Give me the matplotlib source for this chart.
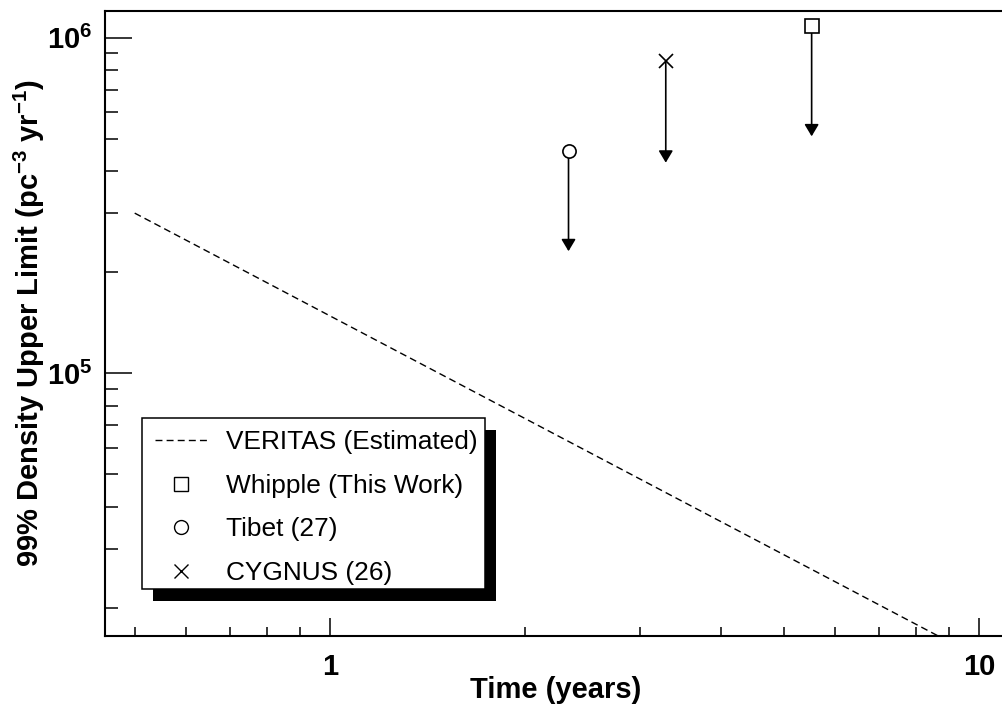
import numpy as np
import matplotlib
matplotlib.use("Agg")
import matplotlib.pyplot as plt
from matplotlib.patches import Rectangle
from matplotlib.lines import Line2D
from matplotlib.ticker import LogLocator, NullFormatter

plt.rcParams['font.family'] = 'Liberation Sans'
plt.rcParams['mathtext.fontset'] = 'custom'
plt.rcParams['mathtext.rm'] = 'Liberation Sans'
plt.rcParams['mathtext.bf'] = 'Liberation Sans:bold'
plt.rcParams['mathtext.it'] = 'Liberation Sans:italic'

# estimated VERITAS sensitivity (time in years, density)
veritas_t = [0.5, 8.65]
veritas_d = [3.0e5, 1.65e4]

# measured upper limits and where their arrows end
limit_names = ['Whipple (This Work)', 'Tibet (27)', 'CYGNUS (26)']
limit_t = [5.52, 2.33, 3.29]
limit_d = [1.08e6, 4.59e5, 8.5e5]
arrow_d = [5.08e5, 2.31e5, 4.24e5]
markers = ['s', 'o', 'x']

xticks = [1, 10]
xticklabels = ['1', '10']
yticks = [1e5, 1e6]
yticklabels = [r'$\mathbf{10^{5}}$', r'$\mathbf{10^{6}}$']

W, H = 1002, 708
fig = plt.figure(figsize=(W / 100, H / 100), dpi=100)
ax = fig.add_axes([105 / W, (H - 636) / H, (1006 - 105) / W, (636 - 11) / H])
ax.set_xscale('log')
ax.set_yscale('log')
ax.set_xlim(0.45, 11)
ax.set_ylim(1.65e4, 1.2e6)

# VERITAS line
dash = (0, (5, 3))
ax.plot(veritas_t, veritas_d, color='k', ls=dash, lw=1)

# upper limits with downward arrows
for t, d, a, m in zip(limit_t, limit_d, arrow_d, markers):
    ax.annotate('', xy=(t, a), xytext=(t, d),
                arrowprops=dict(arrowstyle='-|>,head_length=0.72,head_width=0.43',
                                color='k', lw=1.2, shrinkA=0, shrinkB=0))
    ax.plot([t], [d], m, mfc='white', mec='k', ms=9.5, mew=1.2, zorder=4)

# axes styling
for s in ax.spines.values():
    s.set_linewidth(1.5)
ax.xaxis.set_minor_locator(LogLocator(base=10, subs=np.arange(2, 10)))
ax.yaxis.set_minor_locator(LogLocator(base=10, subs=np.arange(2, 10)))
ax.xaxis.set_minor_formatter(NullFormatter())
ax.yaxis.set_minor_formatter(NullFormatter())
ax.set_xticks(xticks, labels=xticklabels, fontsize=21, fontweight='bold')
ax.set_yticks(yticks, labels=yticklabels, fontsize=21)
ax.tick_params(which='both', direction='in', top=False, right=False, width=1.1)
ax.tick_params(axis='x', which='major', length=13, pad=12)
ax.tick_params(axis='x', which='minor', length=6.5)
ax.tick_params(axis='y', which='major', length=19.5, pad=9)
ax.tick_params(axis='y', which='minor', length=9.4)

ax.set_xlabel('Time (years)', fontsize=21, fontweight='bold', labelpad=-3)
ax.set_ylabel(r'99% Density Upper Limit (pc$\mathbf{^{-3}}$ yr$\mathbf{^{-1}}$)',
              fontsize=21, fontweight='bold', labelpad=0)

# legend box with a solid black shadow
bx0, by0, bx1, by1 = 141.7, 418, 485, 589
ax.add_patch(Rectangle(((bx0 + 11) / W, (H - by1 - 12) / H), (bx1 - bx0) / W,
                       (by1 - by0) / H, transform=fig.transFigure,
                       facecolor='k', edgecolor='none', zorder=4.8))
ax.add_patch(Rectangle((bx0 / W, (H - by1) / H), (bx1 - bx0) / W,
                       (by1 - by0) / H, transform=fig.transFigure,
                       facecolor='white', edgecolor='k', lw=1.1, zorder=4.9))

handles = [Line2D([], [], color='k', ls=dash, lw=1)]
for m in markers:
    handles.append(Line2D([], [], ls='none', marker=m, mfc='none', mec='k',
                          ms=10, mew=1))
labels = ['VERITAS (Estimated)'] + limit_names
ax.legend(handles, labels, loc='upper left',
          bbox_to_anchor=(155 / W, (H - 430) / H), bbox_transform=fig.transFigure,
          frameon=False, fontsize=18.9, handlelength=2.0, handletextpad=0.7,
          labelspacing=0.75, borderpad=0, borderaxespad=0)

fig.savefig('out.png', dpi=100)
